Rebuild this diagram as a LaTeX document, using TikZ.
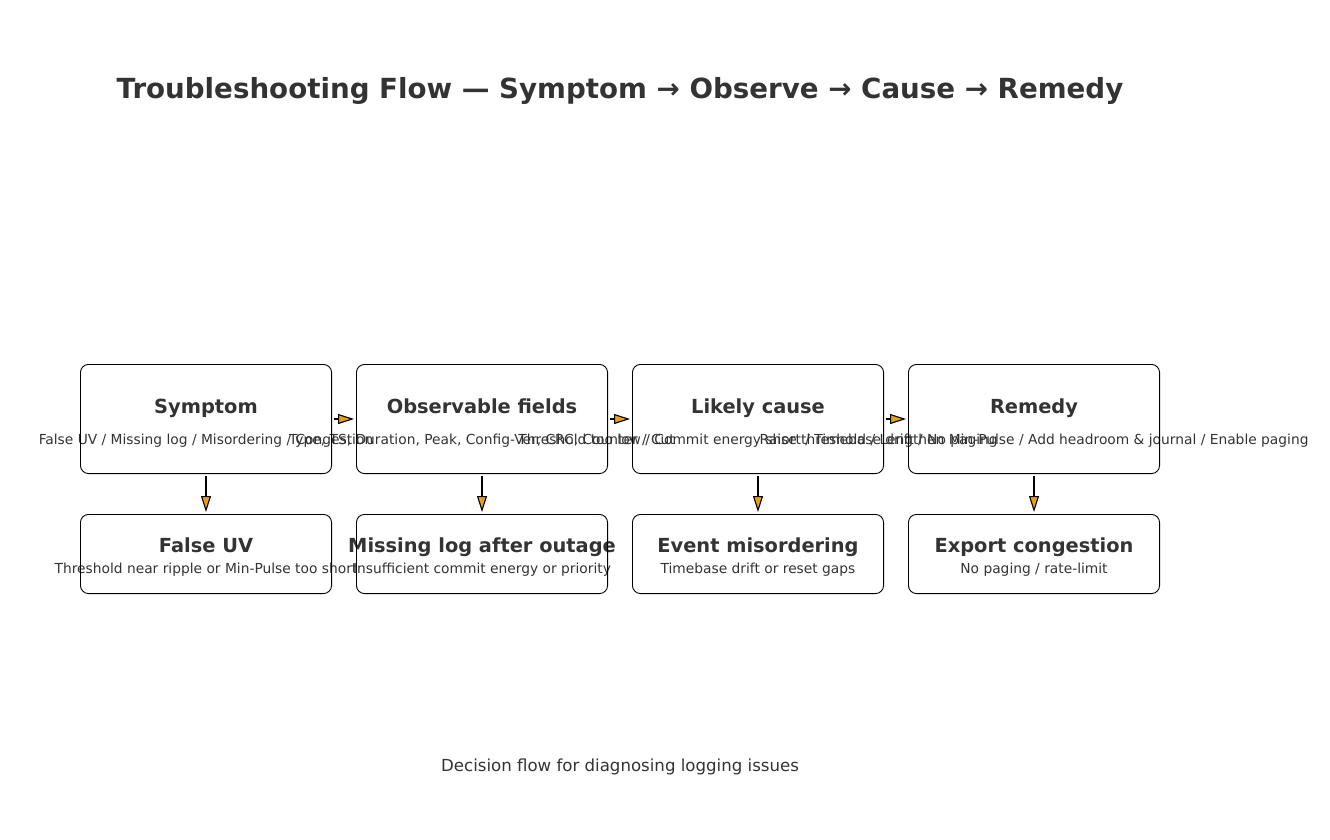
\documentclass[tikz,border=0pt]{standalone}
\usepackage{fontspec}
\setmainfont{DejaVu Sans}
\usepackage{xcolor}
\usetikzlibrary{positioning, arrows.meta, calc}

\definecolor{inkgray}{RGB}{51,51,51}
\definecolor{tipgold}{RGB}{230,161,24}

\begin{document}
\begin{tikzpicture}[
        x=1pt, y=-1pt,
        stage/.style={rectangle, draw, rounded corners=8pt, line width=0.9pt, minimum width=251.1pt, minimum height=109.1pt},
        verdict/.style={stage, minimum height=79.1pt},
        headtxt/.style={text=inkgray, font=\fontsize{19.4}{23}\selectfont\bfseries, inner sep=0pt, text height=0.74em, text depth=0.22em},
        subtxt/.style={text=inkgray, font=\fontsize{13.8}{16}\selectfont, inner sep=0pt, text height=0.74em, text depth=0.22em},
        flow/.style={-{Triangle[length=16pt, width=10pt, fill=tipgold]}, line width=1.1pt, shorten <=2pt, shorten >=2pt}
    ]
        \useasboundingbox (0,0) rectangle (1330,839);

        % title and caption
        \node[text=inkgray, font=\fontsize{27.7}{32}\selectfont\bfseries] (title) at (620,91) {Troubleshooting Flow — Symptom → Observe → Cause → Remedy};
        \node[text=inkgray, font=\fontsize{16.6}{20}\selectfont] (caption) at (620,767) {Decision flow for diagnosing logging issues};

        % texts of the top row
        \node[headtxt] (symT) at (206,411) {Symptom};
        \node[subtxt] (symS) at (206,442) {False UV / Missing log / Misordering / Congestion};
        \node[headtxt] (obsT) at (482,411) {Observable fields};
        \node[subtxt] (obsS) at (482,442) {Type, TS, Duration, Peak, Config-Ver, CRC, Counter / Cut};
        \node[headtxt] (cauT) at (758,411) {Likely cause};
        \node[subtxt] (cauS) at (758,442) {Threshold too low / Commit energy short / Timebase drift / No paging};
        \node[headtxt] (remT) at (1034,411) {Remedy};
        \node[subtxt] (remS) at (1034,442) {Raise threshold / Lengthen Min-Pulse / Add headroom \& journal / Enable paging};

        % texts of the bottom row
        \node[headtxt] (uvT) at (206,550) {False UV};
        \node[subtxt] (uvS) at (206,571) {Threshold near ripple or Min-Pulse too short};
        \node[headtxt] (logT) at (482,550) {Missing log after outage};
        \node[subtxt] (logS) at (482,571) {Insufficient commit energy or priority};
        \node[headtxt] (ordT) at (758,550) {Event misordering};
        \node[subtxt] (ordS) at (758,571) {Timebase drift or reset gaps};
        \node[headtxt] (expT) at (1034,550) {Export congestion};
        \node[subtxt] (expS) at (1034,571) {No paging / rate-limit};

        % boxes
        \node[stage] (symptom) at (206,419) {};
        \node[stage, right=24pt of symptom] (observe) {};
        \node[stage, right=24pt of observe] (cause) {};
        \node[stage, right=24pt of cause] (remedy) {};

        \node[verdict] (falseuv) at (206,554) {};
        \node[verdict, right=24pt of falseuv] (missing) {};
        \node[verdict, right=24pt of missing] (misorder) {};
        \node[verdict, right=24pt of misorder] (congest) {};

        % arrows
        \draw[flow] (symptom) -- (observe);
        \draw[flow] (observe) -- (cause);
        \draw[flow] (cause) -- (remedy);

        \draw[flow] (symptom) -- (falseuv);
        \draw[flow] (observe) -- (missing);
        \draw[flow] (cause) -- (misorder);
        \draw[flow] (remedy) -- (congest);

    \end{tikzpicture}
\end{document}
